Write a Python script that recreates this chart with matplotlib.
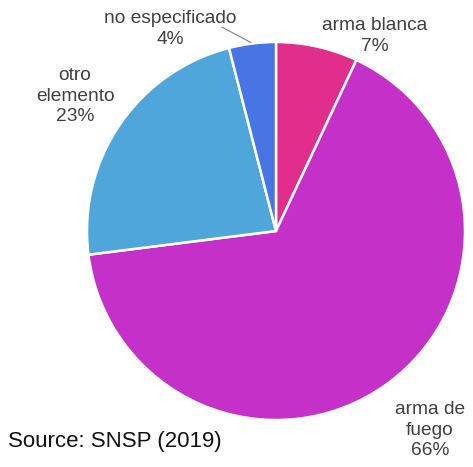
import matplotlib
matplotlib.use("Agg")
import matplotlib.pyplot as plt

categories = ["arma blanca", "arma de fuego", "otro elemento", "no especificado"]
values = [7, 66, 23, 4]
label_texts = ["arma blanca\n7%", "arma de\nfuego\n66%", "otro\nelemento\n23%", "no especificado\n4%"]
colors = ["#E12E8D", "#C430C8", "#4FA6DB", "#4775E3"]

plt.rcParams['font.family'] = ['Liberation Sans', 'DejaVu Sans']

fig = plt.figure(figsize=(4.73, 4.67), dpi=100)
ax = fig.add_axes([0.1839, 0.1006, 0.7992, 0.8094])
ax.pie(values, colors=colors, startangle=90, counterclock=False,
       wedgeprops=dict(edgecolor="white", linewidth=1.8))
ax.set_xlim(-1, 1)
ax.set_ylim(-1, 1)
ax.set_aspect("equal")
ax.axis("off")

label_pos = [(0.524, 1.032), (0.815, -1.053), (-1.063, 0.714), (-0.561, 1.069)]
for txt, (x, y) in zip(label_texts, label_pos):
    ax.text(x, y, txt, ha="center", va="center", fontsize=13.8, color="#404040",
            linespacing=1.3, clip_on=False)

ax.plot([-0.286, -0.132], [1.079, 0.997], color="#808080", lw=0.8, clip_on=False)

fig.text(8/473, 1 - 442/467, "Source: SNSP (2019)", ha="left", va="center",
         fontsize=16, color="#111111")

fig.savefig("out.png", dpi=100)
